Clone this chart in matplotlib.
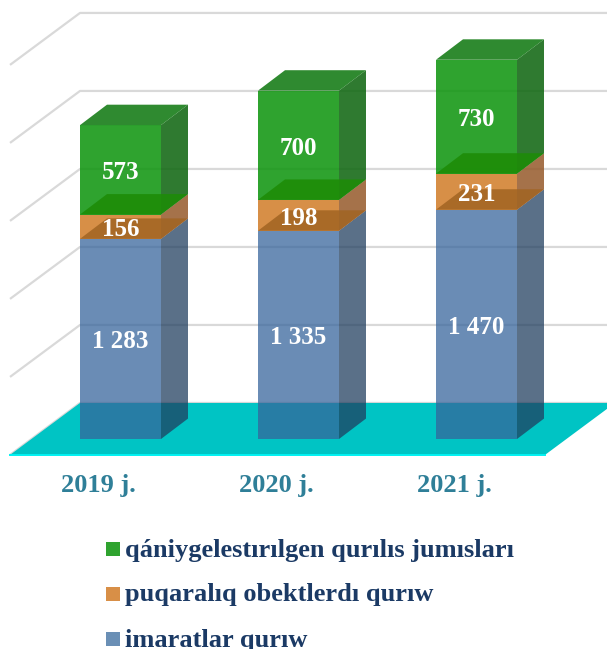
import matplotlib.pyplot as plt
from matplotlib.patches import Polygon, Rectangle

# --- data ---
years = ['2019 j.', '2020 j.', '2021 j.']
imaratlar = [1283, 1335, 1470]
puqaralik = [156, 198, 231]
qaniygelestirilgen = [573, 700, 730]
value_labels = [['1 283', '1 335', '1 470'], ['156', '198', '231'], ['573', '700', '730']]
grid_values = [0, 500, 1000, 1500, 2000, 2500]
legend_names = ['qániygelestırılgen qurılıs jumısları', 'puqaralıq obektlerdı qurıw', 'imaratlar qurıw']

# --- fake 3d geometry, in axis units ---
bar_w = 81 / 178
bar_dx, bar_dy = 27 / 178, 131     # depth of the bars
wall_y = 231                       # back wall baseline
wall_x0, wall_x1 = -0.2275, 2.778  # back wall left/right
side_dx, side_dy = 70 / 178, 333   # depth of floor and left wall

# front, side, top, bottom colours and alpha for each segment
styles = [
    dict(front='#36649B', side='#203E5F', top=None, bottom=None, alpha=0.74),
    dict(front='#D17B27', side='#95592A', top=None, bottom='#A16422', alpha=0.85),
    dict(front='#129612', side='#126813', top='#127A13', bottom='#1D8C07', alpha=0.88),
]
legend_colors = ['#2FA32F', '#D88F47', '#6A8FB5']

plt.rcParams['font.family'] = ['Liberation Serif', 'DejaVu Serif']
fig = plt.figure(figsize=(6.07, 6.49), dpi=100)
ax = fig.add_axes([0, 0, 1, 1])
ax.set_xlim(-120.5 / 178, 486.5 / 178)
ax.set_ylim(-1346, 2814)
ax.axis('off')

# gridlines on back + left wall
for v in grid_values:
    y = wall_y + v
    ax.plot([wall_x0 - side_dx, wall_x0, 2.8], [y - side_dy, y, y],
            color='#D9D9D9', lw=1.6, zorder=1, solid_capstyle='butt')

# floor
ax.add_patch(Polygon([(wall_x0 - side_dx, wall_y - side_dy), (wall_x0, wall_y),
                      (wall_x1, wall_y), (wall_x1 - side_dx, wall_y - side_dy)],
                     closed=True, fc='#00C4C4', ec='none', zorder=2))
ax.plot([wall_x0 - side_dx, wall_x1 - side_dx], [wall_y - side_dy] * 2,
        color='#00F2F2', lw=1.4, zorder=2.5)

# stacked bars
series = [imaratlar, puqaralik, qaniygelestirilgen]
z = 3
for i in range(len(years)):
    l, r = i - bar_w / 2, i + bar_w / 2
    base = 0
    for s, st, labs in zip(series, styles, value_labels):
        t = base + s[i]
        a = st['alpha']
        ax.add_patch(Polygon([(r, base), (r + bar_dx, base + bar_dy), (r + bar_dx, t + bar_dy), (r, t)],
                             closed=True, fc=st['side'], ec='none', alpha=a, zorder=z))
        ax.add_patch(Rectangle((l, base), bar_w, s[i], fc=st['front'], ec='none', alpha=a, zorder=z + 0.1))
        # floor of the segment is seen through the front, so it goes on top
        if st['bottom']:
            ax.add_patch(Polygon([(l, base), (r, base), (r + bar_dx, base + bar_dy), (l + bar_dx, base + bar_dy)],
                                 closed=True, fc=st['bottom'], ec='none', alpha=a, zorder=z + 0.2))
        if st['top']:
            ax.add_patch(Polygon([(l, t), (r, t), (r + bar_dx, t + bar_dy), (l + bar_dx, t + bar_dy)],
                                 closed=True, fc=st['top'], ec='none', alpha=a, zorder=z + 0.3))
        ax.text(i, base + s[i] / 2 - 19, labs[i], color='white', fontsize=18, fontweight='bold',
                ha='center', va='center', zorder=20)
        base = t
        z += 1
    ax.text(i - 0.122, -295, years[i], color='#2F7F98', fontsize=19, fontweight='bold',
            ha='center', va='center', zorder=20)

# legend
for name, c, py in zip(legend_names, legend_colors, [549, 594, 639]):
    fig.patches.append(Rectangle((106 / 607, 1 - (py + 7) / 649), 14 / 607, 14 / 649,
                                 transform=fig.transFigure, fc=c, ec='none'))
    fig.text(125 / 607, 1 - (py + 1) / 649, name, color='#1B3A65', fontsize=19, fontweight='bold',
             ha='left', va='center')

fig.savefig('out.png', dpi=100)
